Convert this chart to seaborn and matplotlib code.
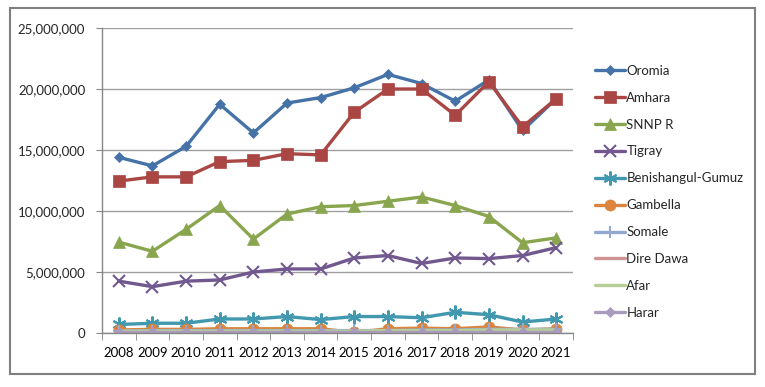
import matplotlib
matplotlib.use("Agg")
import matplotlib.pyplot as plt
import seaborn as sns
import numpy as np
from matplotlib.patches import Rectangle
from matplotlib.ticker import FuncFormatter, MultipleLocator

# === Data ===
years = list(range(2008, 2022))
regions = ["Oromia", "Amhara", "SNNP R", "Tigray", "Benishangul-Gumuz",
           "Gambella", "Somale", "Dire Dawa", "Afar", "Harar"]

oromia = [14.4, 13.7, 15.3, 18.75, 16.4, 18.85, 19.3, 20.1, 21.2, 20.45, 19.0, 20.75, 16.6, 19.2]
amhara = [12.45, 12.8, 12.8, 14.05, 14.15, 14.7, 14.6, 18.1, 20.0, 20.0, 17.85, 20.6, 16.9, 19.2]
snnpr = [7.45, 6.7, 8.5, 10.45, 7.7, 9.75, 10.35, 10.45, 10.8, 11.15, 10.45, 9.55, 7.4, 7.8]
tigray = [4.25, 3.8, 4.25, 4.35, 5.0, 5.25, 5.25, 6.15, 6.35, 5.7, 6.15, 6.1, 6.35, 7.0]
benishangul = [0.7, 0.8, 0.8, 1.15, 1.15, 1.35, 1.1, 1.35, 1.35, 1.25, 1.7, 1.5, 0.9, 1.15]
gambella = [0.25, 0.3, 0.3, 0.35, 0.35, 0.35, 0.35, 0.05, 0.35, 0.4, 0.35, 0.5, 0.25, 0.35]
somale = [0.15, 0.2, 0.2, 0.2, 0.2, 0.2, 0.2, 0.2, 0.2, 0.25, 0.25, 0.3, 0.3, 0.3]
dire_dawa = [0.1, 0.1, 0.1, 0.1, 0.1, 0.1, 0.1, 0.1, 0.1, 0.15, 0.15, 0.15, 0.15, 0.15]
afar = [0.15, 0.15, 0.15, 0.15, 0.15, 0.15, 0.15, 0.15, 0.2, 0.2, 0.2, 0.25, 0.25, 0.25]
harar = [0.1, 0.1, 0.1, 0.1, 0.1, 0.1, 0.1, 0.1, 0.1, 0.1, 0.1, 0.1, 0.1, 0.1]

series = [oromia, amhara, snnpr, tigray, benishangul, gambella, somale, dire_dawa, afar, harar]

colors = ["#4572A7", "#AA4643", "#89A54E", "#71588F", "#4198AF",
          "#DB843D", "#93A9CF", "#D19392", "#B9CD96", "#A99BBD"]
markers = ["D", "s", "^", "x", (6, 2, 0), "o", "+", None, None, "D"]
msizes = [5.5, 8, 8, 9, 10, 8, 9, 0, 0, 5.5]

# === Plot ===
sns.set_style("white")
plt.rcParams["font.family"] = ["Lato", "DejaVu Sans"]

fig = plt.figure(figsize=(7.65, 3.87), dpi=100)
ax = fig.add_axes([0.1333, 0.1395, 0.6157, 0.7881])

for name, vals, c, m, ms in zip(regions, series, colors, markers, msizes):
    sns.lineplot(x=years, y=np.array(vals) * 1e6, ax=ax, color=c, label=name,
                 marker=m, markersize=ms, linewidth=2.4,
                 markeredgecolor=c, markeredgewidth=1.5 if m in ("x", "+", (6, 2, 0)) else 0.5)

ax.set_xlim(2007.5, 2021.5)
ax.set_ylim(0, 25e6)
ax.yaxis.set_major_locator(MultipleLocator(5e6))
ax.yaxis.set_major_formatter(FuncFormatter(lambda v, p: f"{int(v):,}"))
ax.set_xticks(years)
ax.set_xticks(np.arange(2007.5, 2022, 1), minor=True)
ax.tick_params(axis="x", which="major", length=0, pad=10, labelsize=9.5, colors="black")
ax.tick_params(axis="x", which="minor", length=5, color="#868686", direction="out", bottom=True)
ax.tick_params(axis="y", which="major", length=4, color="#868686", direction="out", left=True,
               labelsize=9.5, pad=8)

ax.grid(axis="y", color="#A0A0A0", linewidth=1)
ax.grid(axis="x", visible=False)
for s in ["top", "right"]:
    ax.spines[s].set_visible(False)
for s in ["left", "bottom"]:
    ax.spines[s].set_color("#868686")
    ax.spines[s].set_linewidth(1)
ax.set_xlabel("")
ax.set_ylabel("")

ax.legend(loc="upper left", bbox_to_anchor=(1.035, 0.897), frameon=False, fontsize=9.5,
          handlelength=2.3, handletextpad=0.1, labelspacing=1.13, borderaxespad=0)

# outer chart frame
fig.patches.append(Rectangle((10 / 765, 1 - 374 / 387), 745 / 765, 366 / 387,
                             transform=fig.transFigure, fill=False,
                             edgecolor="#808080", linewidth=1.5))

fig.savefig("out.png", dpi=100)
